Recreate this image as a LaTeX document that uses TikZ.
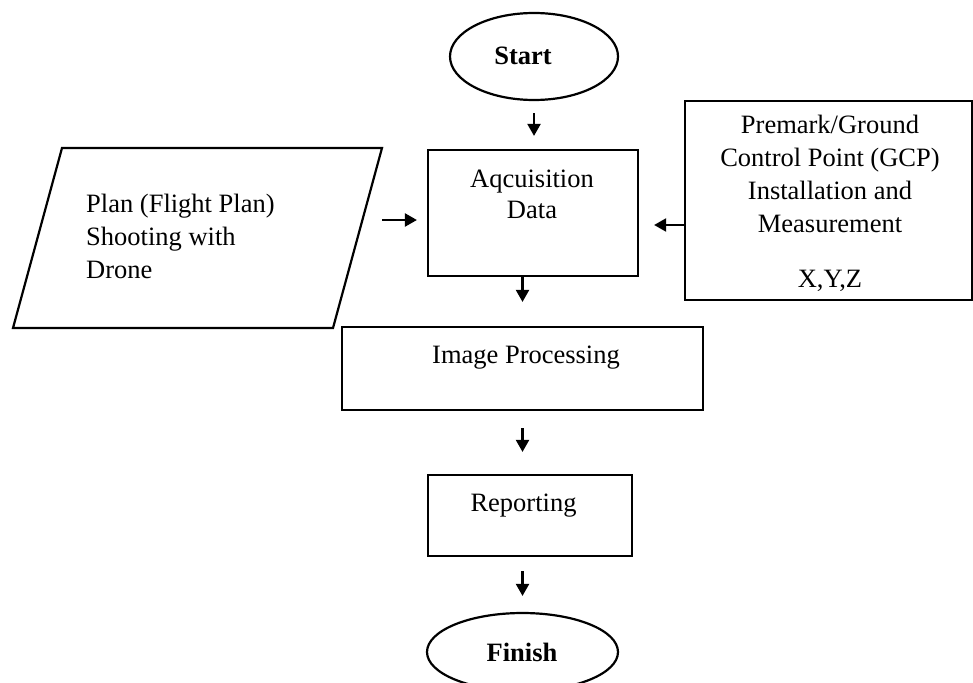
\documentclass[tikz,border=0pt]{standalone}
\usepackage{fontspec}
\setmainfont{Liberation Serif}
\usetikzlibrary{arrows.meta,shapes.geometric}
\begin{document}
\begin{tikzpicture}[x=1pt,y=-1pt,
  box/.style={draw, line width=2.2pt, inner sep=0pt},
  term/.style={draw, ellipse, line width=2.2pt, inner sep=0pt},
  txt/.style={font=\fontsize{26.5}{33}\selectfont, inner sep=0pt, align=center},
  btxt/.style={font=\fontsize{26.5}{33}\selectfont\bfseries, inner sep=0pt},
  arr/.style={line width=2.2pt, -{Triangle[length=12pt,width=13pt]}}]
\path[use as bounding box, fill=white] (0,0) rectangle (973,682);

% Start
\node[term, minimum width=168pt, minimum height=87pt] (start) at (534,56.5) {};
\node[btxt] (starttxt) at (523,56) {Start};

% Acquisition
\node[box, minimum width=210pt, minimum height=126pt] (acq) at (533,213) {};
\node[txt, font=\fontsize{26.5}{31}\selectfont] (acqtxt) at (532,194) {Aqcuisition\\Data};

% Plan parallelogram
\coordinate (p1) at (62,148);
\coordinate (p2) at (382,148);
\coordinate (p3) at (333,328);
\coordinate (p4) at (13,328);
\draw[line width=2.2pt, line join=miter] (p1) -- (p2) -- (p3) -- (p4) -- cycle;
\node[txt, align=left, anchor=west] (plantxt) at (86,236) {Plan (Flight Plan)\\Shooting with\\Drone};

% GCP
\node[box, minimum width=287pt, minimum height=199pt] (gcp) at (828.5,200.5) {};
\node[txt] (gcptxt) at (830,203) {Premark/Ground\\Control Point (GCP)\\Installation and\\Measurement\\[22pt]X,Y,Z};

% Image processing
\node[box, minimum width=361pt, minimum height=83pt] (img) at (522.5,368.5) {};
\node[txt] (imgtxt) at (526,358) {Image Processing};

% Reporting
\node[box, minimum width=204pt, minimum height=81pt] (rep) at (530,515.5) {};
\node[txt] (reptxt) at (523.5,506) {Reporting};

% Finish
\node[term, minimum width=191pt, minimum height=78pt] (fin) at (522.5,652) {};
\node[btxt] (fintxt) at (522,652) {Finish};

% Connectors
\draw[arr, shorten <=12pt, shorten >=13pt] (start.south) -- (start.south |- acq.north);
\draw[arr, shorten >=24pt] (acq.south -| img.north) -- (img.north);
\draw[arr, shorten <=17pt, shorten >=22pt] (img.south) -- (img.south |- rep.north);
\draw[arr, shorten <=14pt, shorten >=16pt] (rep.south -| fin.north) -- (fin.north);
\coordinate (planout) at (382,220);
\draw[arr, shorten >=10pt] (planout) -- (planout -| acq.west);
\coordinate (gcpin) at (685,225);
\draw[arr, shorten >=15pt] (gcpin) -- (gcpin -| acq.east);
\end{tikzpicture}
\end{document}
